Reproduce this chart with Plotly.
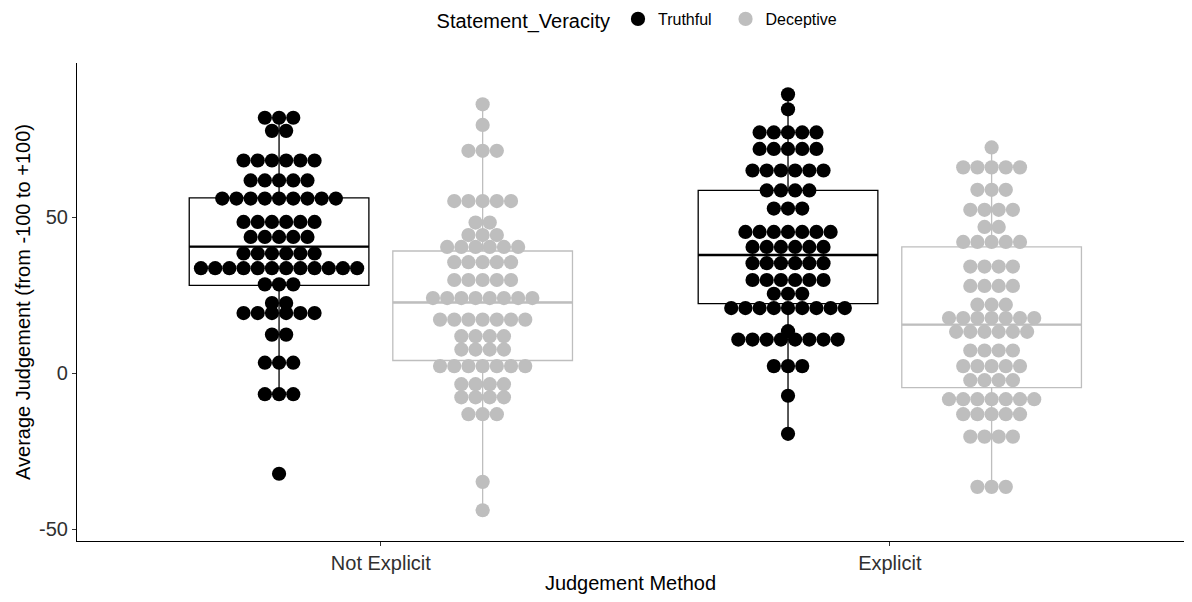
import plotly.graph_objects as go

# ---------------- data ----------------
methods = ["Not Explicit", "Explicit"]
veracity = ["Truthful", "Deceptive"]

# dot rows (stacked value levels) and number of dots per row
ne_truth_vals = [81.9, 77.7, 68.2, 61.8, 56.0, 48.5, 43.7, 38.4, 33.7, 28.5, 22.5, 19.3, 12.4, 3.4, -6.7, -32.2]
ne_truth_n = [3, 2, 6, 5, 9, 6, 5, 6, 12, 3, 2, 6, 2, 3, 3, 1]

ne_decep_vals = [86.2, 79.6, 71.3, 55.2, 48.3, 44.3, 40.5, 35.6, 29.9, 24.1, 17.2, 11.9, 7.6, 2.3, -3.5, -7.7, -13.1, -34.8, -43.9]
ne_decep_n = [1, 1, 3, 5, 2, 3, 6, 5, 5, 8, 7, 4, 4, 7, 4, 4, 3, 1, 1]

ex_truth_vals = [89.4, 84.6, 77.2, 71.9, 65.0, 58.6, 52.8, 45.3, 40.5, 35.3, 29.9, 25.5, 20.9, 13.5, 10.8, 2.3, -7.2, -19.4]
ex_truth_n = [1, 1, 5, 5, 6, 4, 3, 7, 6, 6, 6, 3, 9, 1, 8, 3, 1, 1]

ex_decep_vals = [72.4, 66.0, 58.8, 52.4, 46.9, 42.1, 34.2, 28.0, 22.0, 17.7, 13.3, 7.3, 2.3, -2.2, -8.3, -13.1, -20.3, -36.4]
ex_decep_n = [1, 5, 3, 4, 2, 5, 4, 4, 3, 7, 6, 4, 5, 4, 7, 5, 4, 3]

# box statistics per method (Not Explicit, Explicit)
truth_q1 = [28.2, 22.3]
truth_median = [40.6, 37.9]
truth_q3 = [56.2, 58.6]
truth_lower = [-6.7, -19.4]
truth_upper = [81.9, 89.4]

decep_q1 = [4.1, -4.6]
decep_median = [22.7, 15.6]
decep_q3 = [39.2, 40.5]
decep_lower = [-43.9, -36.4]
decep_upper = [86.2, 72.4]

x_title = "Judgement Method"
y_title = "Average Judgement (from -100 to +100)"

# ---------------- styling ----------------
colors = {"Truthful": "#000000", "Deceptive": "#BEBEBE"}
legend_names = {"Truthful": "Truthful\u00a0\u00a0", "Deceptive": "Deceptive"}
method_pos = [1, 2]
dodge = {"Truthful": -0.2, "Deceptive": 0.2}
box_w = 0.353
px_per_unit = 509.0
dot_px = 14.2
dot_step = dot_px / px_per_unit
FONT = "Liberation Sans, Arial, sans-serif"

groups = {
    "Truthful": [(ne_truth_vals, ne_truth_n), (ex_truth_vals, ex_truth_n)],
    "Deceptive": [(ne_decep_vals, ne_decep_n), (ex_decep_vals, ex_decep_n)],
}
stats = {
    "Truthful": (truth_q1, truth_median, truth_q3, truth_lower, truth_upper),
    "Deceptive": (decep_q1, decep_median, decep_q3, decep_lower, decep_upper),
}

fig = go.Figure()

# dots
for ver in veracity:
    xs, ys = [], []
    for mi, (vals, ns) in enumerate(groups[ver]):
        center = method_pos[mi] + dodge[ver]
        for v, n in zip(vals, ns):
            for i in range(n):
                xs.append(center + (i - (n - 1) / 2) * dot_step)
                ys.append(v)
    fig.add_trace(go.Scatter(
        x=xs, y=ys, mode="markers", name=legend_names[ver], legendgroup=ver,
        marker=dict(size=dot_px, color=colors[ver], line=dict(width=0)),
        showlegend=True, hoverinfo="y",
    ))

# boxes on top
for ver in veracity:
    q1, med, q3, lo, hi = stats[ver]
    centers = [p + dodge[ver] for p in method_pos]
    fig.add_trace(go.Box(
        x=centers, q1=q1, median=med, q3=q3, lowerfence=lo, upperfence=hi,
        width=box_w, whiskerwidth=0, fillcolor="rgba(0,0,0,0)",
        line=dict(color=colors[ver], width=1.3),
        boxpoints=False, showlegend=False, legendgroup=ver, name=ver,
    ))
    # thicker median segments (as in ggplot)
    mx, my = [], []
    for c, m in zip(centers, med):
        mx += [c - box_w / 2, c + box_w / 2, None]
        my += [m, m, None]
    fig.add_trace(go.Scatter(
        x=mx, y=my, mode="lines", line=dict(color=colors[ver], width=2.4),
        showlegend=False, hoverinfo="skip",
    ))

fig.update_layout(
    width=1176, height=586,
    margin=dict(l=69, r=0, t=55, b=53, autoexpand=False),
    paper_bgcolor="white", plot_bgcolor="white",
    boxmode="overlay",
    font=dict(family=FONT, size=20, color="#000000"),
    legend=dict(
        orientation="h", x=0.323, xanchor="left", y=1.09, yanchor="middle",
        title=dict(text="Statement_Veracity", font=dict(size=20, color="#000000"), side="left"),
        font=dict(size=16, color="#000000"),
        itemwidth=30,
    ),
)
fig.update_xaxes(
    range=[0.403, 2.578], tickvals=method_pos, ticktext=methods,
    showline=True, linecolor="#000000", linewidth=1.2,
    ticks="outside", ticklen=4, tickcolor="#333333", tickwidth=1.2,
    showgrid=False, zeroline=False, automargin=False,
    tickfont=dict(size=20, color="#303030", family=FONT),
    title=dict(text=x_title, font=dict(size=20, color="#000000"), standoff=11),
)
fig.update_yaxes(
    range=[-53.75, 99.45], tickvals=[-50, 0, 50], ticktext=["-50", "0", "50"],
    showline=True, linecolor="#000000", linewidth=1.2,
    ticks="outside", ticklen=4, tickcolor="#333333", tickwidth=1.2,
    showgrid=False, zeroline=False, automargin=False,
    tickfont=dict(size=20, color="#303030", family=FONT),
    title=dict(text=y_title, font=dict(size=20, color="#000000"), standoff=2),
)

fig.write_html("out.html")
